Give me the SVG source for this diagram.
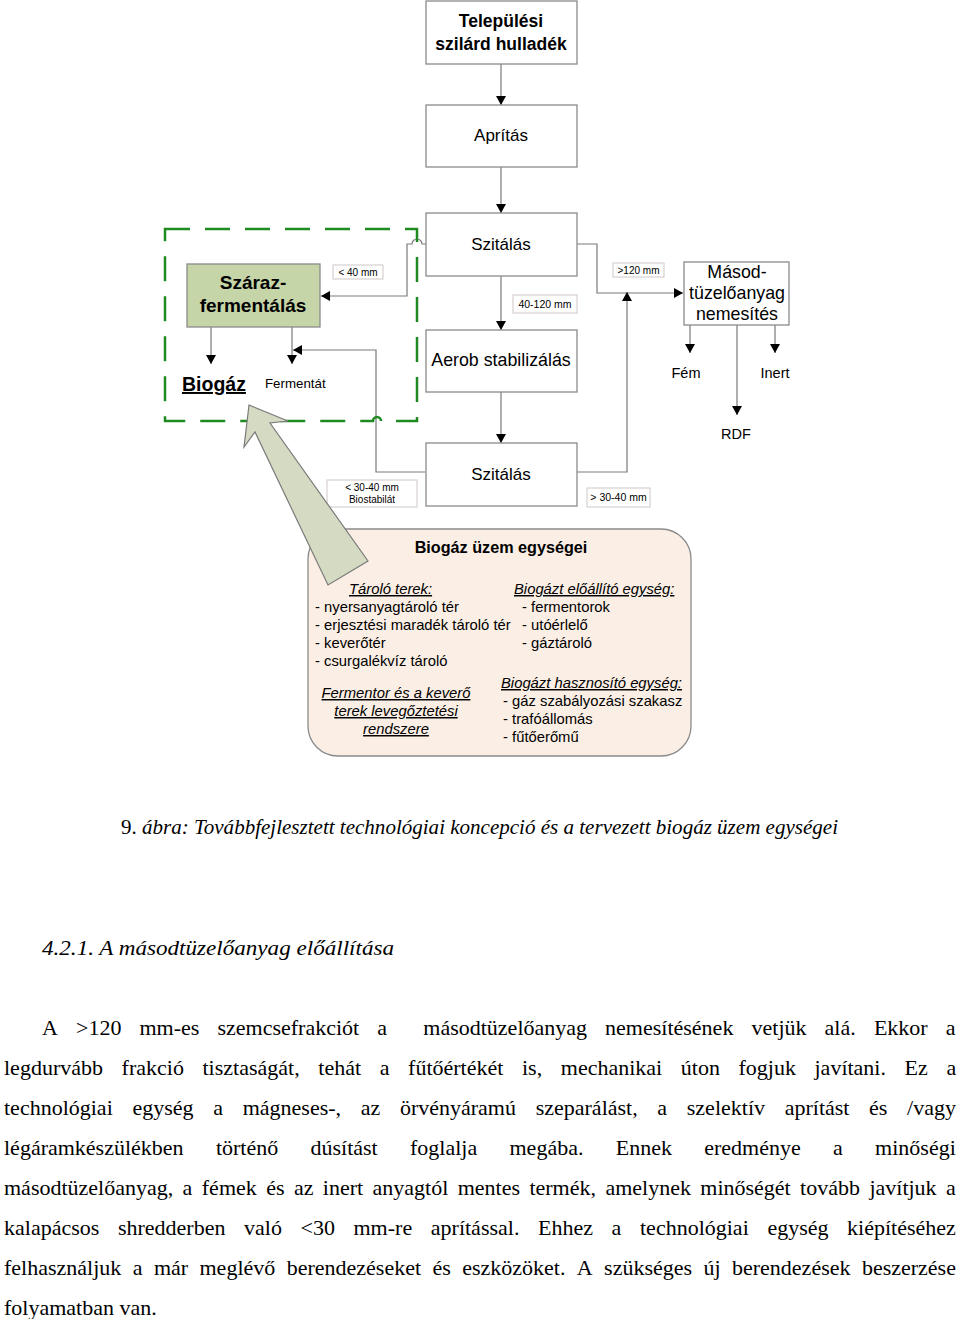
<svg xmlns="http://www.w3.org/2000/svg" width="960" height="1319" viewBox="0 0 960 1319">
<style>
.box{fill:#fff;stroke:#8a8a8a;stroke-width:1.3}
.lbl{fill:#fff;stroke:#d2c8c8;stroke-width:1}
.ln{fill:none;stroke:#7a7a7a;stroke-width:1.2}
.s{font-family:"Liberation Sans",Arial,sans-serif;fill:#000}
.c{text-anchor:middle}
.b{font-weight:bold}
.u{text-decoration:underline}
.i{font-style:italic}
.serif{font-family:"Liberation Serif","Times New Roman",serif;fill:#000}
</style>
<defs>
<marker id="ah" markerWidth="9" markerHeight="10" refX="9" refY="5" orient="auto" markerUnits="userSpaceOnUse">
<path d="M0,0 L9,5 L0,10 Z" fill="#000"/>
</marker>
</defs>
<rect width="960" height="1319" fill="#fff"/>

<g id="connectors">
<path class="ln" d="M501,64 V105" marker-end="url(#ah)"/>
<path class="ln" d="M501,167 V213" marker-end="url(#ah)"/>
<path class="ln" d="M426,244 H422 A5,5 0 0 0 412,244 H407 V296 H321" marker-end="url(#ah)"/>
<path class="ln" d="M577,244 H597 V293 H683" marker-end="url(#ah)"/>
<path class="ln" d="M501,276 V330" marker-end="url(#ah)"/>
<path class="ln" d="M501,392 V443" marker-end="url(#ah)"/>
<path class="ln" d="M425,472 H376 V350 H293" marker-end="url(#ah)"/>
<path class="ln" d="M577,472 H627 V292" marker-end="url(#ah)"/>
<path class="ln" d="M211,327 V364" marker-end="url(#ah)"/>
<path class="ln" d="M292,327 V364" marker-end="url(#ah)"/>
<path class="ln" d="M690,325 V353" marker-end="url(#ah)"/>
<path class="ln" d="M737,325 V415" marker-end="url(#ah)"/>
<path class="ln" d="M775,325 V353" marker-end="url(#ah)"/>
</g>

<g id="dry-zone">
<path d="M165,229 H417 V421 H381 A4,4 0 0 0 373,421 H165 Z" fill="none" stroke="#1f8a22" stroke-width="2.5" stroke-dasharray="25,15"/>
</g>

<g id="n-hulladek">
<rect class="box" x="426" y="1" width="151" height="63"/>
<text class="s c b" x="501" y="27" font-size="17.5">Települési</text>
<text class="s c b" x="501" y="50" font-size="17.5">szilárd hulladék</text>
</g>
<g id="n-apritas">
<rect class="box" x="426" y="105" width="151" height="62"/>
<text class="s c" x="501" y="141" font-size="17">Aprítás</text>
</g>
<g id="n-szitalas1">
<rect class="box" x="426" y="213" width="151" height="63"/>
<text class="s c" x="501" y="250" font-size="17">Szitálás</text>
</g>
<g id="n-aerob">
<rect class="box" x="426" y="330" width="151" height="62"/>
<text class="s c" x="501" y="366" font-size="17.8">Aerob stabilizálás</text>
</g>
<g id="n-szitalas2">
<rect class="box" x="426" y="443" width="151" height="63"/>
<text class="s c" x="501" y="480" font-size="17">Szitálás</text>
</g>
<g id="n-szaraz">
<rect x="187" y="264" width="133" height="63" fill="#c6d5a8" stroke="#8a8a8a" stroke-width="1.3"/>
<text class="s c b" x="253" y="289" font-size="19">Száraz-</text>
<text class="s c b" x="253" y="312" font-size="19">fermentálás</text>
</g>
<g id="n-masod">
<rect class="box" x="684" y="262" width="105" height="63"/>
<text class="s c" x="737" y="278" font-size="17.8">Másod-</text>
<text class="s c" x="737" y="299" font-size="17.8">tüzelőanyag</text>
<text class="s c" x="737" y="320" font-size="17.8">nemesítés</text>
</g>
<g id="n-biogaz">
<text class="s b u" x="182" y="391" font-size="19.5">Biogáz</text>
</g>
<g id="n-fermentat">
<text class="s" x="265" y="388" font-size="13.3">Fermentát</text>
</g>
<g id="n-fem"><text class="s c" x="686" y="378" font-size="14.5">Fém</text></g>
<g id="n-inert"><text class="s c" x="775" y="378" font-size="14.5">Inert</text></g>
<g id="n-rdf"><text class="s c" x="736" y="439" font-size="14.5">RDF</text></g>

<g id="labels">
<rect class="lbl" x="333" y="265" width="50" height="14"/>
<text class="s c" x="358" y="275.5" font-size="10">&lt; 40 mm</text>
<rect class="lbl" x="613" y="263" width="51" height="14"/>
<text class="s c" x="638.5" y="273.5" font-size="10">&gt;120 mm</text>
<rect class="lbl" x="513" y="295" width="64" height="18"/>
<text class="s c" x="545" y="308" font-size="10.5">40-120 mm</text>
<rect class="lbl" x="327" y="480" width="90" height="27"/>
<text class="s c" x="372" y="491" font-size="10">&lt; 30-40 mm</text>
<text class="s c" x="372" y="503" font-size="10">Biostabilát</text>
<rect class="lbl" x="587" y="488" width="63" height="19"/>
<text class="s c" x="618.5" y="501" font-size="10.5">&gt; 30-40 mm</text>
</g>

<g id="n-uzem">
<rect x="308" y="529" width="383" height="227" rx="30" fill="#fbefe5" stroke="#8a8a8a" stroke-width="1.3"/>
<text class="s c b" x="501" y="553" font-size="16.2">Biogáz üzem egységei</text>
<g font-size="14.8">
<text class="s i u" x="349" y="594">Tároló terek:</text>
<text class="s" x="315" y="612">- nyersanyagtároló tér</text>
<text class="s" x="315" y="630">- erjesztési maradék tároló tér</text>
<text class="s" x="315" y="648">- keverőtér</text>
<text class="s" x="315" y="666">- csurgalékvíz tároló</text>
<text class="s i u" x="514" y="594">Biogázt előállító egység:</text>
<text class="s" x="522" y="612">- fermentorok</text>
<text class="s" x="522" y="630">- utóérlelő</text>
<text class="s" x="522" y="648">- gáztároló</text>
<text class="s i u c" x="396" y="698">Fermentor és a keverő</text>
<text class="s i u c" x="396" y="716">terek levegőztetési</text>
<text class="s i u c" x="396" y="734">rendszere</text>
<text class="s i u" x="501" y="688">Biogázt hasznosító egység:</text>
<text class="s" x="503" y="706">- gáz szabályozási szakasz</text>
<text class="s" x="503" y="724">- trafóállomás</text>
<text class="s" x="503" y="742">- fűtőerőmű</text>
</g>
</g>

<g id="big-arrow">
<path d="M249,405 L288,421 L270,423 L368,561 L328,585 L255,432 L244,447 Z" fill="#d5dbc3" stroke="#7a7a7a" stroke-width="1.2"/>
</g>

<g id="caption">
<text class="serif" x="121" y="834" font-size="20" textLength="717" lengthAdjust="spacingAndGlyphs">9. <tspan font-style="italic">ábra: Továbbfejlesztett technológiai koncepció és a tervezett biogáz üzem egységei</tspan></text>
</g>

<g id="text-body">
<text class="serif i" x="42" y="955" font-size="22" textLength="352" lengthAdjust="spacingAndGlyphs">4.2.1. A másodtüzelőanyag előállítása</text>
<g font-size="22">
<text class="serif" y="1035"><tspan x="42">A</tspan><tspan x="76">&gt;120</tspan><tspan x="139.5">mm-es</tspan><tspan x="217.5">szemcsefrakciót</tspan><tspan x="377.3">a</tspan><tspan x="423.3">másodtüzelőanyag</tspan><tspan x="605.1">nemesítésének</tspan><tspan x="751.5">vetjük</tspan><tspan x="824.6">alá.</tspan><tspan x="873.9">Ekkor</tspan><tspan x="945.8">a</tspan></text>
<text class="serif" y="1075"><tspan x="4">legdurvább</tspan><tspan x="121.6">frakció</tspan><tspan x="202.5">tisztaságát,</tspan><tspan x="318.3">tehát</tspan><tspan x="379.7">a</tspan><tspan x="408.1">fűtőértékét</tspan><tspan x="522">is,</tspan><tspan x="560.8">mechanikai</tspan><tspan x="680.8">úton</tspan><tspan x="738.5">fogjuk</tspan><tspan x="814.5">javítani.</tspan><tspan x="904.6">Ez</tspan><tspan x="946.4">a</tspan></text>
<text class="serif" y="1115"><tspan x="4">technológiai</tspan><tspan x="132.5">egység</tspan><tspan x="213.2">a</tspan><tspan x="242.7">mágneses-,</tspan><tspan x="360.7">az</tspan><tspan x="399.9">örvényáramú</tspan><tspan x="535.7">szeparálást,</tspan><tspan x="657.3">a</tspan><tspan x="686.8">szelektív</tspan><tspan x="784.7">aprítást</tspan><tspan x="869.1">és</tspan><tspan x="907.1">/vagy</tspan></text>
<text class="serif" y="1155"><tspan x="4">légáramkészülékben</tspan><tspan x="215.9">történő</tspan><tspan x="310.5">dúsítást</tspan><tspan x="410">foglalja</tspan><tspan x="509.5">megába.</tspan><tspan x="615.7">Ennek</tspan><tspan x="704.2">eredménye</tspan><tspan x="833">a</tspan><tspan x="875.1">minőségi</tspan></text>
<text class="serif" y="1195"><tspan x="4">másodtüzelőanyag,</tspan><tspan x="182.6">a</tspan><tspan x="201.8">fémek</tspan><tspan x="266.2">és</tspan><tspan x="293.9">az</tspan><tspan x="322.8">inert</tspan><tspan x="372.5">anyagtól</tspan><tspan x="457.7">mentes</tspan><tspan x="529.4">termék,</tspan><tspan x="605.4">amelynek</tspan><tspan x="700.3">minőségét</tspan><tspan x="800.1">tovább</tspan><tspan x="869.4">javítjuk</tspan><tspan x="946">a</tspan></text>
<text class="serif" y="1235"><tspan x="4">kalapácsos</tspan><tspan x="117.9">shredderben</tspan><tspan x="244">való</tspan><tspan x="300.5">&lt;30</tspan><tspan x="353.5">mm-re</tspan><tspan x="430.8">aprítással.</tspan><tspan x="538">Ehhez</tspan><tspan x="611.6">a</tspan><tspan x="640">technológiai</tspan><tspan x="767.4">egység</tspan><tspan x="847.1">kiépítéséhez</tspan></text>
<text class="serif" y="1275"><tspan x="4">felhasználjuk</tspan><tspan x="132.7">a</tspan><tspan x="153.9">már</tspan><tspan x="199.5">meglévő</tspan><tspan x="286.7">berendezéseket</tspan><tspan x="432.5">és</tspan><tspan x="462.2">eszközöket.</tspan><tspan x="576.8">A</tspan><tspan x="604.1">szükséges</tspan><tspan x="703.5">új</tspan><tspan x="732">berendezések</tspan><tspan x="861.9">beszerzése</tspan></text>
<text class="serif" x="4" y="1315">folyamatban van.</text>
</g>
</g>
</svg>
